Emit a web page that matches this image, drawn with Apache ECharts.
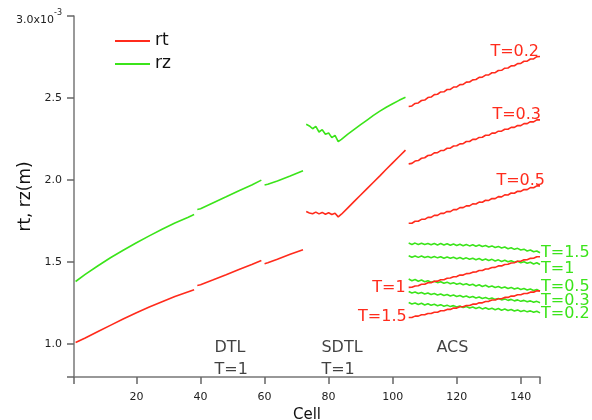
<!DOCTYPE html>
<html>
<head>
<meta charset="utf-8">
<script src="https://cdn.jsdelivr.net/npm/echarts@6/dist/echarts.min.js"></script>
<style>
  html, body { margin: 0; padding: 0; background: #fff; }
  #chart { width: 592px; height: 420px; }
</style>
</head>
<body>
<div id="chart"></div>
<script>
// all radii in units of 1e-3 m

// DTL, T=1 (three segments)
var dtlCells1 = [1, 4, 8, 12, 16, 20, 24, 28, 32, 36, 38]
var dtlRt1 = [1.010, 1.038, 1.077, 1.116, 1.155, 1.192, 1.226, 1.258, 1.290, 1.318, 1.332]
var dtlRz1 = [1.382, 1.425, 1.478, 1.528, 1.574, 1.618, 1.660, 1.700, 1.738, 1.772, 1.790]
var dtlCells2 = [39, 40, 44, 48, 52, 56, 59]
var dtlRt2 = [1.358, 1.362, 1.392, 1.423, 1.455, 1.485, 1.510]
var dtlRz2 = [1.821, 1.825, 1.862, 1.898, 1.935, 1.970, 2.000]
var dtlCells3 = [60, 61, 64, 68, 72]
var dtlRt3 = [1.490, 1.496, 1.518, 1.548, 1.576]
var dtlRz3 = [1.970, 1.975, 1.995, 2.025, 2.057]

// SDTL, T=1
var sdtlCells = [73, 74, 75, 76, 77, 78, 79, 80, 81, 82, 83, 84, 86, 88, 90, 92, 94, 96, 98, 100, 102, 104]
var sdtlRt = [1.808, 1.800, 1.795, 1.805, 1.794, 1.803, 1.792, 1.801, 1.790, 1.798, 1.776,
              1.792, 1.831, 1.870, 1.909, 1.948, 1.987, 2.026, 2.066, 2.105, 2.144, 2.183]
var sdtlRz = [2.340, 2.330, 2.313, 2.327, 2.293, 2.307, 2.279, 2.287, 2.259, 2.273, 2.234,
              2.248, 2.280, 2.309, 2.338, 2.366, 2.394, 2.420, 2.444, 2.465, 2.486, 2.505]

// ACS, several T
var acsCells = [105, 106, 107, 108, 109, 110, 111, 112, 113, 114, 115, 116, 117, 118, 119, 120, 121,
                122, 123, 124, 125, 126, 127, 128, 129, 130, 131, 132, 133, 134, 135, 136, 137, 138,
                139, 140, 141, 142, 143, 144, 145, 146]
var acsRtT02 = [2.448, 2.452, 2.467, 2.470, 2.485, 2.488, 2.503, 2.506, 2.521, 2.523, 2.537, 2.538, 2.552, 2.553,
                2.567, 2.568, 2.582, 2.583, 2.597, 2.598, 2.611, 2.613, 2.626, 2.627, 2.640, 2.641, 2.654, 2.655,
                2.668, 2.669, 2.682, 2.683, 2.696, 2.697, 2.710, 2.711, 2.724, 2.725, 2.738, 2.739, 2.752, 2.753]
var acsRtT03 = [2.099, 2.102, 2.116, 2.119, 2.133, 2.136, 2.150, 2.152, 2.166, 2.167, 2.180, 2.181, 2.194, 2.195,
                2.208, 2.209, 2.221, 2.222, 2.235, 2.235, 2.248, 2.248, 2.260, 2.261, 2.273, 2.273, 2.286, 2.286,
                2.298, 2.298, 2.310, 2.310, 2.321, 2.321, 2.333, 2.332, 2.344, 2.344, 2.356, 2.355, 2.367, 2.367]
var acsRtT05 = [1.737, 1.737, 1.749, 1.749, 1.761, 1.761, 1.773, 1.773, 1.785, 1.785, 1.797, 1.797, 1.809, 1.808,
                1.820, 1.820, 1.832, 1.832, 1.843, 1.843, 1.855, 1.854, 1.866, 1.865, 1.877, 1.876, 1.888, 1.887,
                1.899, 1.898, 1.910, 1.909, 1.921, 1.920, 1.932, 1.931, 1.943, 1.942, 1.954, 1.953, 1.965, 1.965]
var acsRtT1 = [1.346, 1.347, 1.355, 1.356, 1.365, 1.365, 1.374, 1.375, 1.383, 1.384, 1.393, 1.393, 1.402, 1.403,
               1.411, 1.412, 1.421, 1.421, 1.430, 1.431, 1.439, 1.440, 1.449, 1.449, 1.458, 1.459, 1.467, 1.468,
               1.477, 1.477, 1.486, 1.487, 1.495, 1.496, 1.505, 1.505, 1.514, 1.515, 1.523, 1.524, 1.533, 1.533]
var acsRtT15 = [1.163, 1.163, 1.171, 1.171, 1.179, 1.179, 1.187, 1.187, 1.195, 1.195, 1.204, 1.204, 1.212, 1.212,
                1.220, 1.220, 1.228, 1.228, 1.236, 1.236, 1.244, 1.244, 1.252, 1.252, 1.260, 1.261, 1.269, 1.269,
                1.277, 1.277, 1.285, 1.285, 1.293, 1.293, 1.301, 1.301, 1.309, 1.309, 1.317, 1.317, 1.325, 1.325]
var acsRzT15 = [1.616, 1.608, 1.616, 1.607, 1.615, 1.607, 1.614, 1.606, 1.614, 1.605, 1.613, 1.604, 1.612, 1.603,
                1.611, 1.602, 1.609, 1.600, 1.608, 1.599, 1.606, 1.597, 1.604, 1.595, 1.601, 1.592, 1.599, 1.589,
                1.596, 1.586, 1.592, 1.582, 1.588, 1.578, 1.584, 1.574, 1.579, 1.568, 1.574, 1.563, 1.568, 1.557]
var acsRzT1 = [1.539, 1.530, 1.538, 1.529, 1.537, 1.528, 1.535, 1.527, 1.534, 1.526, 1.533, 1.524, 1.531, 1.523,
               1.530, 1.521, 1.528, 1.519, 1.526, 1.517, 1.524, 1.515, 1.522, 1.512, 1.519, 1.510, 1.517, 1.507,
               1.514, 1.504, 1.511, 1.502, 1.508, 1.499, 1.505, 1.496, 1.502, 1.493, 1.499, 1.489, 1.496, 1.486]
var acsRzT05 = [1.397, 1.387, 1.394, 1.384, 1.391, 1.381, 1.387, 1.378, 1.384, 1.375, 1.381, 1.371, 1.378, 1.368,
                1.375, 1.365, 1.371, 1.362, 1.368, 1.359, 1.365, 1.355, 1.362, 1.352, 1.359, 1.349, 1.355, 1.346,
                1.352, 1.343, 1.349, 1.339, 1.346, 1.336, 1.343, 1.333, 1.339, 1.330, 1.336, 1.327, 1.333, 1.323]
var acsRzT03 = [1.321, 1.312, 1.318, 1.309, 1.315, 1.306, 1.312, 1.303, 1.309, 1.300, 1.306, 1.297, 1.303, 1.294,
                1.300, 1.291, 1.297, 1.288, 1.294, 1.285, 1.291, 1.282, 1.288, 1.279, 1.285, 1.276, 1.282, 1.273,
                1.279, 1.270, 1.276, 1.267, 1.273, 1.264, 1.270, 1.261, 1.267, 1.258, 1.264, 1.255, 1.261, 1.252]
var acsRzT02 = [1.254, 1.245, 1.251, 1.242, 1.249, 1.239, 1.246, 1.237, 1.243, 1.234, 1.241, 1.231, 1.238, 1.229,
                1.235, 1.226, 1.233, 1.223, 1.230, 1.221, 1.227, 1.218, 1.225, 1.215, 1.222, 1.213, 1.219, 1.210,
                1.217, 1.207, 1.214, 1.205, 1.211, 1.202, 1.209, 1.199, 1.206, 1.197, 1.203, 1.194, 1.201, 1.191]

var xTicks = [20, 40, 60, 80, 100, 120, 140]
var yTicks = [1.0, 1.5, 2.0, 2.5, 3.0]

// section annotations: [cell, value] where the text starts
var sectionNames = ['DTL', 'T=1', 'SDTL', 'T=1', 'ACS']
var sectionSpots = [[44.2, 0.98], [44.2, 0.846], [77.6, 0.98], [77.6, 0.846], [113.5, 0.98]]

var RED = '#ff2b1c'
var GREEN = '#3be41a'
var FONT = 'DejaVu Sans'

function pairs(cells, vals) {
  return cells.map(function (c, i) { return [c, vals[i]] })
}

function line(name, color, cells, vals, mark) {
  var s = {
    name: name,
    type: 'line',
    data: pairs(cells, vals),
    showSymbol: false,
    symbol: 'none',
    lineStyle: { color: color, width: 1.6 },
    itemStyle: { color: color },
    silent: true,
    z: name === 'rt' ? 3 : 2,
  }
  if (mark) {
    var idx = mark.atStart ? 0 : vals.length - 1
    s.markPoint = {
      silent: true,
      symbolSize: 0,
      data: [{
        coord: [cells[idx], vals[idx]],
        label: Object.assign({
          show: true,
          formatter: mark.text,
          color: color,
          fontSize: 16,
          fontFamily: FONT,
        }, mark.label),
      }],
    }
  }
  return s
}

var aboveEnd = { position: 'top', align: 'right', distance: 0 }
var series = [
  line('rt', RED, dtlCells1, dtlRt1),
  line('rz', GREEN, dtlCells1, dtlRz1),
  line('rt', RED, dtlCells2, dtlRt2),
  line('rz', GREEN, dtlCells2, dtlRz2),
  line('rt', RED, dtlCells3, dtlRt3),
  line('rz', GREEN, dtlCells3, dtlRz3),
  line('rt', RED, sdtlCells, sdtlRt),
  line('rz', GREEN, sdtlCells, sdtlRz),
  line('rt', RED, acsCells, acsRtT02, { text: 'T=0.2', label: Object.assign({ offset: [-1, 3] }, aboveEnd) }),
  line('rt', RED, acsCells, acsRtT03, { text: 'T=0.3', label: Object.assign({ offset: [1, 3] }, aboveEnd) }),
  line('rt', RED, acsCells, acsRtT05, { text: 'T=0.5', label: Object.assign({ offset: [5, 3] }, aboveEnd) }),
  line('rt', RED, acsCells, acsRtT1, { text: 'T=1', atStart: true, label: { position: 'left', distance: 3 } }),
  line('rt', RED, acsCells, acsRtT15, { text: 'T=1.5', atStart: true, label: { position: 'left', distance: 2, offset: [0, -1] } }),
  line('rz', GREEN, acsCells, acsRzT15, { text: 'T=1.5', label: { position: 'right', distance: 1, offset: [0, 0] } }),
  line('rz', GREEN, acsCells, acsRzT1, { text: 'T=1', label: { position: 'right', distance: 1, offset: [0, 4] } }),
  line('rz', GREEN, acsCells, acsRzT05, { text: 'T=0.5', label: { position: 'right', distance: 1, offset: [0, -4] } }),
  line('rz', GREEN, acsCells, acsRzT03, { text: 'T=0.3', label: { position: 'right', distance: 1, offset: [0, -2] } }),
  line('rz', GREEN, acsCells, acsRzT02, { text: 'T=0.2', label: { position: 'right', distance: 1, offset: [0, 1] } }),
  {
    type: 'scatter',
    silent: true,
    symbolSize: 1,
    itemStyle: { color: 'rgba(0,0,0,0)' },
    data: sectionSpots.map(function (p, i) { return { name: sectionNames[i], value: p } }),
    label: {
      show: true,
      position: 'right',
      distance: 0,
      formatter: '{b}',
      color: '#111',
      fontSize: 16,
      fontFamily: FONT,
    },
  },
]

var chart = echarts.init(document.getElementById('chart'))
chart.setOption({
  animation: false,
  backgroundColor: '#fff',
  textStyle: { fontFamily: FONT },
  grid: { left: 74, right: 52, top: 16, bottom: 43, containLabel: false, outerBoundsMode: 'none' },
  legend: {
    data: ['rt', 'rz'],
    orient: 'vertical',
    left: 110,
    top: 27,
    icon: 'rect',
    itemWidth: 35,
    itemHeight: 2,
    itemGap: 5,
    selectedMode: false,
    textStyle: { fontSize: 17, color: '#111', fontFamily: FONT, lineHeight: 18 },
  },
  xAxis: {
    type: 'value',
    min: 0.5,
    max: 146,
    splitNumber: 7,
    name: 'Cell',
    nameLocation: 'middle',
    nameGap: 28,
    nameTextStyle: { fontSize: 15, color: '#111' },
    splitLine: { show: false },
    axisLine: { show: true, lineStyle: { color: '#777', width: 1.5 } },
    axisTick: { show: true, inside: false, length: 7, lineStyle: { color: '#666', width: 1.5 } },
    axisLabel: { show: true, customValues: xTicks, fontSize: 11, color: '#222', margin: 15 },
  },
  yAxis: {
    type: 'value',
    min: 0.8,
    max: 3.0,
    splitNumber: 5,
    name: 'rt, rz(m)',
    nameLocation: 'middle',
    nameGap: 40,
    nameMoveOverlap: false,
    nameTextStyle: { fontSize: 17, color: '#111' },
    splitLine: { show: false },
    axisLine: { show: true, lineStyle: { color: '#777', width: 1.5 } },
    axisTick: { show: true, inside: false, length: 7, lineStyle: { color: '#666', width: 1.5 } },
    axisLabel: {
      show: true,
      customValues: yTicks,
      margin: 12,
      color: '#222',
      fontSize: 11,
      formatter: function (v) {
        if (Math.abs(v - 3) < 1e-9) return '{m|3.0x10}{s|-3}'
        return v.toFixed(1)
      },
      rich: {
        m: { fontSize: 11, color: '#222', padding: [8, 0, 0, 0] },
        s: { fontSize: 8, color: '#222', padding: [0, 0, 6, 0] },
      },
    },
  },
  series: series,
})
</script>
</body>
</html>
